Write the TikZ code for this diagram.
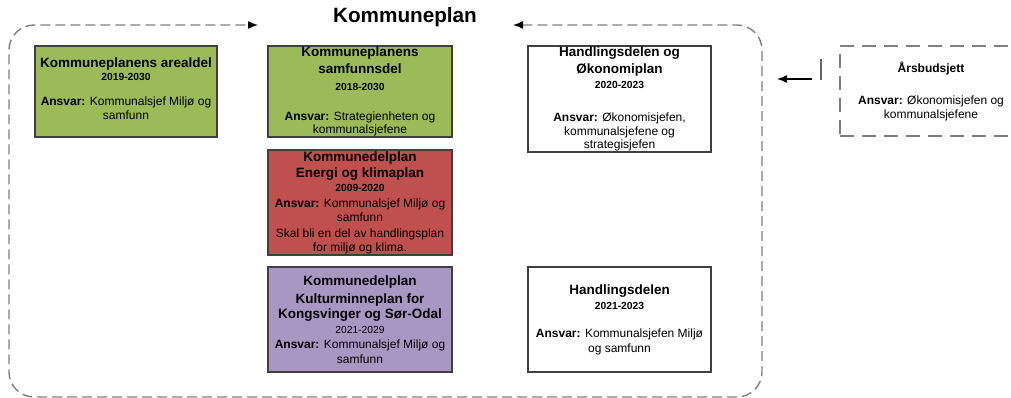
\documentclass[tikz,border=0pt]{standalone}
\usepackage{fontspec}
\setmainfont{Liberation Sans}
\usetikzlibrary{arrows.meta}
\definecolor{kgreen}{HTML}{9BBB59}
\definecolor{kred}{HTML}{C0504D}
\definecolor{kpurple}{HTML}{A997C3}
\definecolor{boxline}{HTML}{404040}
\definecolor{frameline}{HTML}{7F7F7F}
\newcommand{\ttl}{\bfseries\fontsize{13.5}{14}\selectfont}
\newcommand{\yr}{\bfseries\fontsize{10.3}{14}\selectfont}
\newcommand{\yrr}{\mdseries\fontsize{10.3}{14}\selectfont}
\newcommand{\ans}{\mdseries\fontsize{12}{14}\selectfont}
\tikzset{
  planbox/.style={draw=boxline, line width=1.3pt, align=center, inner sep=0pt,
    font=\fontsize{12}{14}\selectfont},
  greenbox/.style={planbox, fill=kgreen},
  redbox/.style={planbox, fill=kred},
  purplebox/.style={planbox, fill=kpurple},
  whitebox/.style={planbox, fill=white},
  budgetbox/.style={draw=frameline, line width=1.4pt, dash pattern=on 14pt off 8pt,
    align=center, inner sep=0pt, font=\fontsize{12}{14}\selectfont},
  frame/.style={draw=frameline, line width=1.4pt, dash pattern=on 10pt off 5pt,
    rounded corners=25pt},
  tip/.style={{Latex[length=10pt,width=8pt,color=black]}-{Latex[length=10pt,width=8pt,color=black]}},
}
\begin{document}
\begin{tikzpicture}[x=1pt,y=-1pt]
\useasboundingbox (0,0) rectangle (1011,398);

% title
\node[font=\bfseries\fontsize{20.7}{22}\selectfont] (title) at (405,17) {Kommuneplan};

% frame
\coordinate (fl) at (258,25);
\coordinate (fr) at (513,25);
\draw[frame, tip] (fr) -- (762,25) -- (762,397) -- (9,397) -- (9,25) -- (fl);

% boxes
\node[greenbox, minimum width=182pt, minimum height=91pt] (areal) at (126,91.5)
  {{\ttl Kommuneplanens arealdel}\\[-1pt]
   {\yr 2019-2030}\\[11pt]
   {\ans\textbf{Ansvar:} Kommunalsjef Miljø og}\\
   {\ans samfunn}\\[-9pt]\mbox{}};

\node[greenbox, minimum width=184pt, minimum height=91pt] (samf) at (360,91.5)
  {{\ttl Kommuneplanens}\\[3pt]
   {\ttl samfunnsdel}\\[3pt]
   {\yr 2018-2030}\\[16pt]
   {\ans\textbf{Ansvar:} Strategienheten og}\\[-1pt]
   {\ans kommunalsjefene}};

\node[redbox, minimum width=184pt, minimum height=105pt] (energi) at (360,202.5)
  {{\ttl Kommunedelplan}\\[2pt]
   {\ttl Energi og klimaplan}\\
   {\yr 2009-2020}\\[2pt]
   {\ans\textbf{Ansvar:} Kommunalsjef Miljø og}\\
   {\ans samfunn}\\[2pt]
   {\ans Skal bli en del av handlingsplan}\\
   {\ans for miljø og klima.}};

\node[purplebox, minimum width=184pt, minimum height=105pt] (kultur) at (360,319.5)
  {{\ttl Kommunedelplan}\\[4pt]
   {\ttl Kulturminneplan for}\\[1pt]
   {\ttl Kongsvinger og Sør-Odal}\\[1pt]
   {\yrr 2021-2029}\\[1pt]
   {\ans\textbf{Ansvar:} Kommunalsjef Miljø og}\\[1pt]
   {\ans samfunn}};

\node[whitebox, minimum width=183pt, minimum height=106pt] (hok) at (619.5,99)
  {{\ttl Handlingsdelen og}\\[3pt]
   {\ttl Økonomiplan}\\[1pt]
   {\yr 2020-2023}\\[19pt]
   {\ans\textbf{Ansvar:} Økonomisjefen,}\\
   {\ans kommunalsjefene og}\\[-1pt]
   {\ans strategisjefen}};

\node[whitebox, minimum width=183pt, minimum height=105pt] (hdel) at (619.5,319.5)
  {{\ttl Handlingsdelen}\\[1pt]
   {\yr 2021-2023}\\[14pt]
   {\ans\textbf{Ansvar:} Kommunalsjefen Miljø}\\[1pt]
   {\ans og samfunn}};

\node[budgetbox, minimum width=182pt, minimum height=90pt] (aars) at (931,91)
  {{\bfseries\fontsize{12}{14}\selectfont Årsbudsjett}\\[18pt]
   {\ans\textbf{Ansvar:} Økonomisjefen og}\\
   {\ans kommunalsjefene}};

% connector from Årsbudsjett to the frame
\coordinate (bartop) at (821,59);
\coordinate (barbot) at (821,80);
\coordinate (arrs) at (812,79);
\coordinate (arre) at (777,79);
\draw[line width=1.4pt, draw=boxline!80] (bartop) -- (barbot);
\draw[line width=1.4pt, draw=black, -{Latex[length=10pt,width=8pt]}] (arrs) -- (arre);
\end{tikzpicture}
\end{document}
